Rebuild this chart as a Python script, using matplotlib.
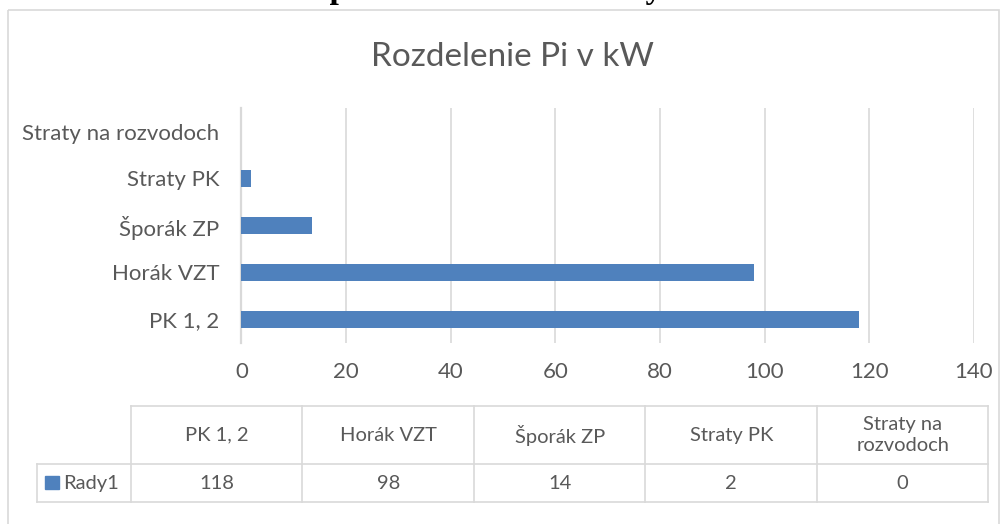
import matplotlib
matplotlib.use("Agg")
import matplotlib.pyplot as plt
from matplotlib.patches import Rectangle

# data
categories = ["PK 1, 2", "Horák VZT", "Šporák ZP", "Straty PK", "Straty na rozvodoch"]
table_headers = ["PK 1, 2", "Horák VZT", "Šporák ZP", "Straty PK", "Straty na\nrozvodoch"]
values = [118, 98, 13.5, 1.8, 0]
series_name = "Rady1"
x_ticks = [0, 20, 40, 60, 80, 100, 120, 140]

title = "Rozdelenie Pi v kW"
caption = "Graf č. 1   Rozdelenie podľa inštalovaného výkonu v kW"

bar_color = "#4F81BD"
text_color = "#595959"
grid_color = "#d9d9d9"

plt.rcParams["font.family"] = ["Lato", "DejaVu Sans"]

W, H = 1004, 524
fig = plt.figure(figsize=(W / 100, H / 100), dpi=100)

# bar chart area (pixel layout)
left, right, top, bottom = 241.5, 974, 108, 343
ax = fig.add_axes([left / W, 1 - bottom / H, (right - left) / W, (bottom - top) / H])
ypos = list(range(len(categories)))
ax.barh(ypos, values, height=0.35, color=bar_color, linewidth=0, zorder=3)
ax.set_xlim(0, 140)
ax.set_ylim(-0.5, len(categories) - 0.5)
ax.set_xticks(x_ticks)
ax.set_yticks(ypos)
ax.set_yticklabels(categories)
ax.xaxis.grid(True, color=grid_color, linewidth=1.2, zorder=0)
for s in ["top", "right", "bottom"]:
    ax.spines[s].set_visible(False)
ax.spines["left"].set_color(grid_color)
ax.spines["left"].set_linewidth(1.6)
ax.tick_params(axis="x", length=0, pad=14, labelsize=16, labelcolor=text_color)
ax.tick_params(axis="y", length=0, pad=16, labelsize=16, labelcolor=text_color)

fig.text(512 / W, 1 - 66 / H, title, ha="center", va="baseline",
         fontsize=24, color=text_color)

# caption cut off at the top of the picture, as in the source
fig.text(15 / W, 1 + 2 / H, caption, ha="left", va="baseline",
         fontsize=24, fontweight="bold", family=["Liberation Serif", "DejaVu Serif"], color="black")

# data table under the chart
tax = fig.add_axes([0, 0, 1, 1])
tax.set_xlim(0, W)
tax.set_ylim(H, 0)
tax.axis("off")

label_left = 36.7
col_left = 131
col_w = 171.5
row_top, row_mid, row_bot = 406, 464.3, 502.3
n = len(table_headers)
col_right = col_left + n * col_w
lw = 1.2

tax.plot([col_left, col_right], [row_top, row_top], color=grid_color, lw=lw)
tax.plot([label_left, col_right], [row_mid, row_mid], color=grid_color, lw=lw)
tax.plot([label_left, col_right], [row_bot, row_bot], color=grid_color, lw=lw)
tax.plot([label_left, label_left], [row_mid, row_bot], color=grid_color, lw=lw)
for i in range(n + 1):
    xx = col_left + i * col_w
    tax.plot([xx, xx], [row_top, row_bot], color=grid_color, lw=lw)

for i, (hdr, v) in enumerate(zip(table_headers, values)):
    cx = col_left + (i + 0.5) * col_w
    tax.text(cx, (row_top + row_mid) / 2, hdr, ha="center", va="center",
             fontsize=14.5, color=text_color, linespacing=1.25)
    tax.text(cx, (row_mid + row_bot) / 2, f"{v:.0f}", ha="center", va="center",
             fontsize=14.5, color=text_color)

tax.add_patch(Rectangle((45, 476), 14, 13, color=bar_color))
tax.text(63, (row_mid + row_bot) / 2, series_name, ha="left", va="center",
         fontsize=14.5, color=text_color)

# chart border
tax.add_patch(Rectangle((8, 10), 991, 530, fill=False, edgecolor=grid_color, lw=1.2))

fig.savefig("out.png", dpi=100)
